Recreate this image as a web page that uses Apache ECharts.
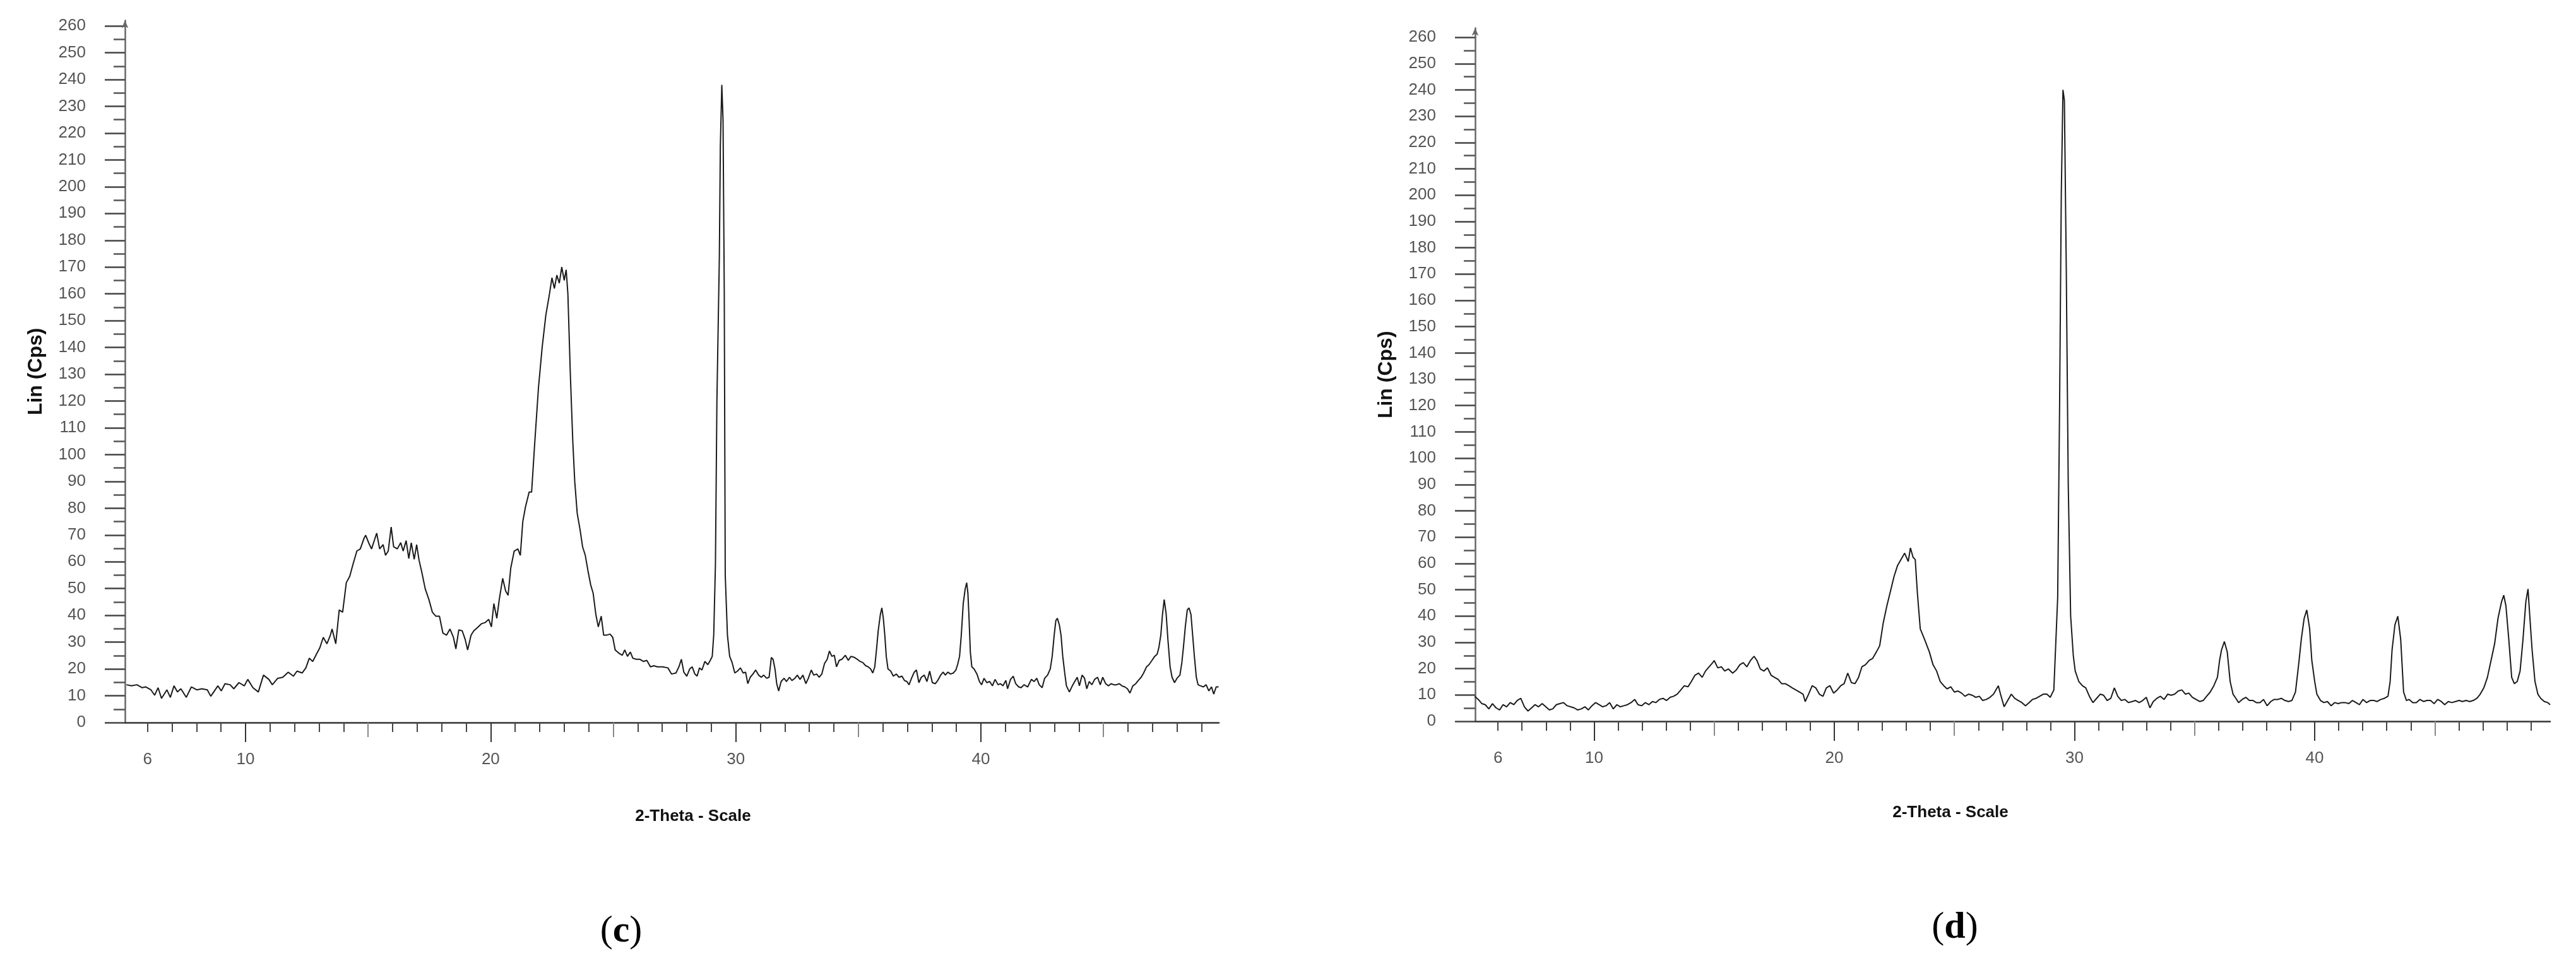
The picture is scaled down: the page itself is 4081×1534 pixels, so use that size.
<!DOCTYPE html>
<html>
<head>
<meta charset="utf-8">
<script src="https://cdn.jsdelivr.net/npm/echarts@6/dist/echarts.min.js"></script>
<style>
html,body{margin:0;padding:0;background:#fff;}
#chart{width:4081px;height:1534px;}
</style>
</head>
<body>
<div id="chart"></div>
<script>
// ---- data: panel (c) ----
var cX = [5.14,5.35,5.57,5.78,5.93,6.14,6.29,6.43,6.57,6.79,6.93,7.08,7.22,7.36,7.58,7.79,8.01,8.22,8.44,8.58,8.73,8.87,9.01,9.16,9.37,9.52,9.73,9.95,10.09,10.3,10.52,10.73,10.95,11.09,11.31,11.52,11.74,11.95,12.1,12.31,12.46,12.6,12.74,12.89,13.03,13.17,13.32,13.46,13.53,13.68,13.82,13.96,14.11,14.25,14.39,
14.54,14.68,14.83,14.9,15.04,15.14,15.25,15.35,15.47,15.61,15.71,15.82,15.94,16.04,16.19,16.33,16.43,16.55,16.66,16.76,16.88,16.98,17.08,17.19,17.33,17.48,17.62,17.76,17.91,18.05,18.2,18.34,18.48,18.58,18.7,18.84,18.96,19.06,19.2,19.31,19.49,19.63,19.77,19.92,20.03,20.13,20.25,20.35,20.49,20.61,20.71,20.82,20.96,21.11,21.21,21.31,21.42,21.57,21.67,21.79,
21.95,22.1,22.25,22.4,22.5,22.6,22.7,22.8,22.9,23.0,23.08,23.15,23.25,23.35,23.43,
23.53,23.65,23.75,23.86,23.98,24.08,24.18,24.29,24.39,24.51,24.61,24.72,24.87,24.98,25.08,25.23,25.37,25.47,25.58,25.7,25.8,25.94,26.09,26.23,26.37,26.52,26.66,26.8,27.02,27.23,
27.38,27.56,27.68,27.78,27.88,28.0,28.12,28.22,28.33,28.42,28.52,28.62,28.74,28.86,28.96,29.04,
29.1,29.17,29.23,29.33,29.37,29.43,29.48,29.53,29.57,29.66,
29.75,29.85,29.96,30.07,30.19,30.3,30.4,30.49,30.59,30.7,30.81,30.93,31.04,31.14,31.26,31.36,31.45,31.52,31.6,31.67,31.75,31.85,31.97,32.07,32.19,32.29,32.41,32.51,32.62,32.74,32.86,32.96,33.08,33.18,33.3,33.4,33.51,33.62,33.73,33.82,33.92,34.02,34.11,34.22,34.33,34.47,34.59,34.7,34.84,34.96,35.07,35.18,35.3,35.4,35.5,35.59,35.67,35.74,35.81,35.9,35.96,36.02,36.08,36.14,36.21,36.32,36.43,36.55,36.66,36.78,36.88,36.98,37.07,37.17,37.28,37.37,37.47,37.57,37.69,37.8,37.91,38.02,38.14,38.24,38.36,38.46,38.55,38.65,38.76,38.88,38.98,39.05,39.13,39.2,39.28,39.36,39.42,39.47,39.51,39.57,39.63,39.72,39.84,39.94,40.03,40.13,40.24,40.36,40.47,40.58,40.7,40.8,40.9,41.02,41.09,41.21,41.32,41.42,41.54,41.64,41.76,41.91,42.06,42.17,42.28,42.38,42.5,42.6,42.72,42.83,42.91,42.99,43.06,43.12,43.2,43.27,43.34,43.42,43.49,43.61,43.73,43.83,43.93,44.02,44.13,44.23,44.32,44.42,44.53,44.64,44.76,44.87,44.97,45.09,45.21,45.31,45.43,45.53,45.65,45.75,45.87,45.98,46.08,46.2,46.32,46.42,46.54,46.64,46.76,46.86,46.98,47.09,47.19,47.26,47.34,47.41,47.48,47.56,47.63,47.72,47.8,47.9,48.0,48.12,48.2,48.27,48.34,48.42,48.49,48.57,48.64,48.71,48.79,48.86,48.96,49.08,49.19,49.3,49.41,49.5,49.6,49.7];
var cY = [14.1,13.7,14.1,13.0,13.3,12.2,10.2,13.0,9.0,12.2,9.4,13.7,11.4,12.6,9.4,13.3,12.2,12.6,12.2,9.8,11.8,13.7,11.8,14.5,14.1,12.6,14.9,13.7,16.1,13.0,11.4,17.7,16.1,14.1,16.5,16.9,18.8,17.3,19.2,18.5,20.4,24.0,22.8,25.5,27.9,31.8,29.4,32.6,34.9,29.4,42.0,41.2,52.2,54.6,59.3,
64.0,64.8,68.7,69.9,66.7,64.8,67.9,70.7,64.8,66.4,62.4,64.0,73.0,65.6,64.8,67.1,64.0,67.9,61.2,67.1,60.9,66.4,60.5,56.1,49.9,45.9,41.2,39.7,39.7,33.4,32.6,34.9,31.8,27.5,34.6,34.2,31.0,27.1,32.6,34.2,35.7,36.9,37.3,38.5,35.7,44.4,38.9,45.9,53.8,49.1,47.5,57.7,64.0,64.8,62.4,75.0,80.5,86.0,86.0,103.3,
125,140,152,160,166,162,167,164,170,165,169,160,130,105,90,
78.1,71.8,65.6,62.4,56.1,51.4,48.3,40.4,35.7,39.7,32.6,32.6,33.0,31.8,27.1,25.9,25.1,27.1,24.7,26.3,24.0,23.6,23.6,22.8,23.2,20.8,21.2,20.8,20.8,20.4,
18.1,18.5,20.8,23.6,18.8,17.3,20.0,20.8,18.1,17.3,20.4,19.6,22.8,21.6,23.2,24.7,
32.6,59,120,174,215,238,225,161,55,32.6,
24.7,22.4,18.5,19.2,20.4,18.5,18.8,14.5,16.9,18.1,19.6,17.7,16.9,17.7,16.5,16.9,24.3,23.6,20.0,14.5,11.8,15.3,16.5,15.3,16.9,15.7,16.5,17.7,16.1,17.7,14.5,16.5,19.6,17.7,18.1,16.9,18.1,22.0,23.6,26.7,24.7,25.1,20.8,23.2,23.6,25.1,23.2,24.7,24.3,23.6,22.8,22.4,21.2,20.8,20.0,18.5,20.8,27.1,34.2,40.4,42.8,38.9,32.6,24.7,20.0,19.2,17.3,18.1,16.9,17.3,15.7,15.3,14.1,16.5,18.8,19.6,14.9,16.9,17.7,15.3,19.2,14.9,14.5,15.7,17.7,18.8,17.7,18.8,18.1,18.5,19.6,21.6,24.7,32.6,44.4,49.9,52.2,48.3,40.4,26.3,20.8,20.0,18.1,15.3,14.1,16.5,14.9,15.3,13.7,16.1,14.1,14.5,13.7,15.7,12.6,16.1,17.3,14.5,13.3,13.0,14.1,13.3,16.1,15.3,16.5,14.1,13.0,16.5,17.7,20.0,24.7,32.6,38.1,38.9,36.5,32.6,24.7,18.5,13.7,11.4,13.7,15.3,16.9,13.7,17.7,16.5,12.6,15.3,14.1,16.1,16.9,14.1,16.9,14.5,13.7,14.5,14.1,14.1,14.5,13.7,13.3,12.6,11.0,13.7,14.5,15.7,16.9,18.5,20.8,21.6,23.2,24.7,25.5,27.9,32.6,40.4,45.9,40.4,31.0,20.8,16.9,14.9,16.5,17.7,22.4,28.7,35.7,42.0,42.8,40.4,32.6,24.7,16.9,14.1,13.7,13.3,14.1,11.8,13.3,10.6,13.3,13.3];

// ---- data: panel (d) ----
var dX = [5.03,5.18,5.33,5.47,5.62,5.77,5.92,6.07,6.21,6.36,6.51,6.66,6.8,6.95,7.1,7.25,7.4,7.54,7.69,7.84,7.99,8.14,8.28,8.43,8.58,8.73,8.88,9.02,9.17,9.32,9.47,9.62,9.76,9.91,10.06,10.21,10.36,10.5,10.65,10.8,10.95,11.09,11.24,11.39,11.54,11.69,11.83,11.98,12.13,12.28,12.43,12.57,12.72,12.87,13.02,13.17,13.31,13.46,13.61,13.76,13.91,14.05,14.2,14.35,14.5,14.64,14.79,14.94,15.0,15.15,15.3,15.44,15.59,15.77,15.92,16.07,16.21,16.36,16.51,16.66,16.78,16.92,17.07,17.22,17.37,17.51,17.66,17.81,17.96,18.11,18.25,18.4,18.55,18.7,18.79,18.93,19.08,19.23,19.38,19.53,19.67,19.82,19.97,20.12,20.27,20.41,20.56,20.71,20.86,21.01,21.15,21.3,21.45,21.6,21.75,21.89,22.04,22.19,22.34,22.49,22.63,22.78,22.93,23.08,23.17,23.28,23.37,23.46,23.58,23.76,23.96,24.11,24.26,24.41,24.56,24.7,24.85,25.0,25.15,25.3,25.44,25.59,25.74,25.89,26.04,26.18,26.33,26.48,26.63,26.78,26.83,26.92,27.07,27.22,27.37,27.51,27.66,27.81,27.96,28.11,28.25,28.4,28.55,28.7,28.85,28.99,29.14,
29.3,29.38,29.45,29.52,29.58,29.66,29.74,29.84,29.95,
30.03,30.18,30.33,30.47,30.62,30.77,30.92,31.07,31.21,31.36,31.51,31.66,31.8,31.95,32.1,32.25,32.4,32.54,32.69,32.84,32.99,33.14,33.28,33.43,33.58,33.73,33.88,34.02,34.17,34.32,34.47,34.62,34.76,34.91,35.06,35.21,35.36,35.5,35.65,35.8,35.95,36.04,36.12,36.24,36.36,36.48,36.6,36.72,36.83,36.98,37.13,37.28,37.43,37.57,37.72,37.87,38.02,38.17,38.31,38.46,38.61,38.76,38.91,39.05,39.2,39.35,39.44,39.56,39.67,39.79,39.88,40.0,40.09,40.24,40.38,40.53,40.68,40.83,40.98,41.12,41.27,41.42,41.57,41.72,41.86,42.01,42.16,42.31,42.46,42.6,42.75,42.9,43.05,43.14,43.22,43.34,43.46,43.58,43.7,43.82,43.93,44.08,44.23,44.38,44.53,44.67,44.82,44.97,45.12,45.27,45.41,45.56,45.71,45.86,46.01,46.15,46.3,46.45,46.6,46.75,46.89,47.04,47.19,47.34,47.49,47.63,47.78,47.87,47.96,48.08,48.2,48.31,48.43,48.55,48.67,48.79,48.88,48.96,49.05,49.17,49.29,49.41,49.56,49.7,49.8];
var dY = [9.5,8.3,6.7,6.3,4.7,6.7,5.1,4.3,6.3,5.5,7.1,6.3,7.9,8.7,5.5,3.9,5.1,6.3,5.5,6.7,5.5,4.3,4.7,6.3,6.7,7.1,5.9,5.5,5.1,4.3,4.7,5.5,4.3,5.9,7.1,6.3,5.5,5.9,7.1,4.7,6.3,5.5,5.9,6.3,7.1,8.3,6.3,5.9,7.1,6.3,7.5,7.1,8.3,8.7,7.9,9.1,9.5,10.3,11.9,13.5,13.1,15.1,17.5,18.3,16.7,19.1,20.7,22.3,23.1,20.3,20.7,19.1,19.9,18.3,19.5,21.5,22.3,20.7,23.1,24.7,23.1,19.9,19.1,20.3,17.5,16.7,15.9,14.3,14.3,13.5,12.7,11.9,11.1,10.3,7.5,10.3,13.5,12.7,10.3,9.5,12.7,13.5,10.7,11.9,13.5,14.3,18.3,14.7,14.3,16.7,20.7,21.5,23.1,23.9,26.3,28.7,37.5,43.9,49.5,55.1,59.1,61.5,63.9,60.7,65.9,62.3,61.5,48.7,35.1,31.1,26.3,21.5,19.1,15.1,13.5,12.3,13.1,11.1,11.5,10.7,9.5,10.3,9.9,9.1,9.5,7.9,8.3,9.1,10.3,12.7,13.5,10.3,5.5,7.9,10.3,8.7,7.9,7.1,5.9,7.1,8.3,8.7,9.5,10.3,10.3,9.1,11.9,
47,120,200,240,236,170,90,40,25,
19.1,15.1,13.5,12.7,9.5,7.1,8.7,10.3,9.9,7.9,8.7,12.7,9.5,7.9,8.3,7.1,7.5,7.9,7.1,7.9,9.1,5.1,7.5,8.7,9.5,8.3,10.3,9.9,10.3,11.5,11.9,10.3,10.7,9.1,8.3,7.5,7.9,9.5,11.1,13.5,16.7,23.1,27.1,30.3,26.3,15.1,10.3,8.7,7.1,8.3,9.1,7.9,7.9,7.1,7.1,8.3,5.9,7.5,8.3,8.3,8.7,7.9,7.5,7.9,11.1,23.1,31.1,39.1,42.3,35.1,23.1,15.1,10.3,7.9,7.1,7.5,5.9,7.1,6.7,7.1,7.1,6.7,7.9,7.1,6.3,8.3,7.1,7.9,7.9,7.5,8.3,8.7,9.5,15.1,27.1,36.7,39.9,31.1,11.1,7.9,8.3,7.1,7.1,8.3,7.5,7.9,7.9,6.7,8.3,7.5,6.3,7.5,7.1,7.5,7.9,7.5,7.9,7.5,7.9,8.7,10.3,12.7,16.7,23.1,29.5,39.1,45.5,47.9,43.9,31.1,16.7,14.3,15.1,19.1,31.1,45.5,50.3,39.1,27.1,15.1,10.3,8.7,7.5,7.1,6.3];

// ---- axis ticks and labels ----
var yMajor = [0,10,20,30,40,50,60,70,80,90,100,110,120,130,140,150,160,170,180,190,200,210,220,230,240,250,260];
var yMinor = [5,15,25,35,45,55,65,75,85,95,105,115,125,135,145,155,165,175,185,195,205,215,225,235,245,255];
var xMinorTicks = [6,7,8,9,11,12,13,14,16,17,18,19,21,22,23,24,26,27,28,29,31,32,33,34,36,37,38,39,41,42,43,44,46,47,48,49];
var xMidTicks = [15, 25, 35, 45];
var xMajorTicks = [10, 20, 30, 40];
var xTickLabels = [6, 10, 20, 30, 40];

var pairs = function (xs, ys) { return xs.map(function (x, i) { return [x, ys[i]]; }); };

var FONT = '"Liberation Sans", Arial, sans-serif';
var grids = [
  { left: 198, top: 32.6, width: 1733, height: 1112.4 },
  { left: 2337, top: 44.5, width: 1703, height: 1098.5 }
];
var xRanges = [[5.08, 49.71], [5.05, 49.8]];
var yMaxes = [262, 263.5];

var xAxes = [], yAxes = [];
for (var g = 0; g < 2; g++) {
  xAxes.push({
    type: 'value', gridIndex: g, min: xRanges[g][0], max: xRanges[g][1], position: 'bottom',
    axisLine: { show: true, onZero: false, lineStyle: { color: '#333', width: 2.5 } },
    axisTick: { show: true, length: 15, customValues: xMinorTicks, lineStyle: { color: '#444', width: 2 } },
    axisLabel: { show: true, customValues: xTickLabels, margin: 46, fontSize: 26, color: '#555', fontFamily: FONT },
    splitLine: { show: false }
  });
  xAxes.push({
    type: 'value', gridIndex: g, min: xRanges[g][0], max: xRanges[g][1], position: 'bottom',
    axisLine: { show: false },
    axisTick: { show: true, length: 23, customValues: xMidTicks, lineStyle: { color: '#888', width: 2 } },
    axisLabel: { show: false }, splitLine: { show: false }
  });
  xAxes.push({
    type: 'value', gridIndex: g, min: xRanges[g][0], max: xRanges[g][1], position: 'bottom',
    axisLine: { show: false },
    axisTick: { show: true, length: 31, customValues: xMajorTicks, lineStyle: { color: '#333', width: 2 } },
    axisLabel: { show: false }, splitLine: { show: false }
  });
  yAxes.push({
    type: 'value', gridIndex: g, min: 0, max: yMaxes[g], position: 'left',
    name: 'Lin (Cps)', nameLocation: 'middle', nameGap: 125,
    nameTextStyle: { fontSize: 32, fontWeight: 'bold', color: '#111', fontFamily: FONT },
    axisLine: { show: true, onZero: false, symbol: ['none', 'arrow'], symbolSize: [8, 12], lineStyle: { color: '#666', width: 2.5 } },
    axisTick: { show: true, length: 32, customValues: yMajor, lineStyle: { color: '#444', width: 2.5 } },
    axisLabel: { show: true, customValues: yMajor, margin: 62, fontSize: 26, color: '#555', fontFamily: FONT },
    splitLine: { show: false }
  });
  yAxes.push({
    type: 'value', gridIndex: g, min: 0, max: yMaxes[g], position: 'left',
    axisLine: { show: false },
    axisTick: { show: true, length: 18, customValues: yMinor, lineStyle: { color: '#555', width: 2.5 } },
    axisLabel: { show: false }, splitLine: { show: false }
  });
}

var chart = echarts.init(document.getElementById('chart'), null, { renderer: 'canvas' });
chart.setOption({
  animation: false,
  backgroundColor: '#fff',
  grid: grids,
  xAxis: xAxes,
  yAxis: yAxes,
  series: [
    { type: 'line', xAxisIndex: 0, yAxisIndex: 0, data: pairs(cX, cY), showSymbol: false, symbol: 'none',
      lineStyle: { color: '#1a1a1a', width: 2 } },
    { type: 'line', xAxisIndex: 3, yAxisIndex: 2, data: pairs(dX, dY), showSymbol: false, symbol: 'none',
      lineStyle: { color: '#1a1a1a', width: 2 } }
  ],
  graphic: [
    { type: 'text', x: 1098, y: 1294, style: { text: '2-Theta - Scale', font: 'bold 26px ' + FONT, fill: '#111', textAlign: 'center', textVerticalAlign: 'middle' } },
    { type: 'text', x: 3090, y: 1288, style: { text: '2-Theta - Scale', font: 'bold 26px ' + FONT, fill: '#111', textAlign: 'center', textVerticalAlign: 'middle' } },
    { type: 'text', x: 984, y: 1476, style: { text: '{p|(}{b|c}{p|)}', textAlign: 'center', textVerticalAlign: 'middle',
        rich: { p: { font: '60px "Liberation Serif", serif', fill: '#000' }, b: { font: 'bold 60px "Liberation Serif", serif', fill: '#000' } } } },
    { type: 'text', x: 3097, y: 1470, style: { text: '{p|(}{b|d}{p|)}', textAlign: 'center', textVerticalAlign: 'middle',
        rich: { p: { font: '60px "Liberation Serif", serif', fill: '#000' }, b: { font: 'bold 60px "Liberation Serif", serif', fill: '#000' } } } }
  ]
});
</script>
</body>
</html>
